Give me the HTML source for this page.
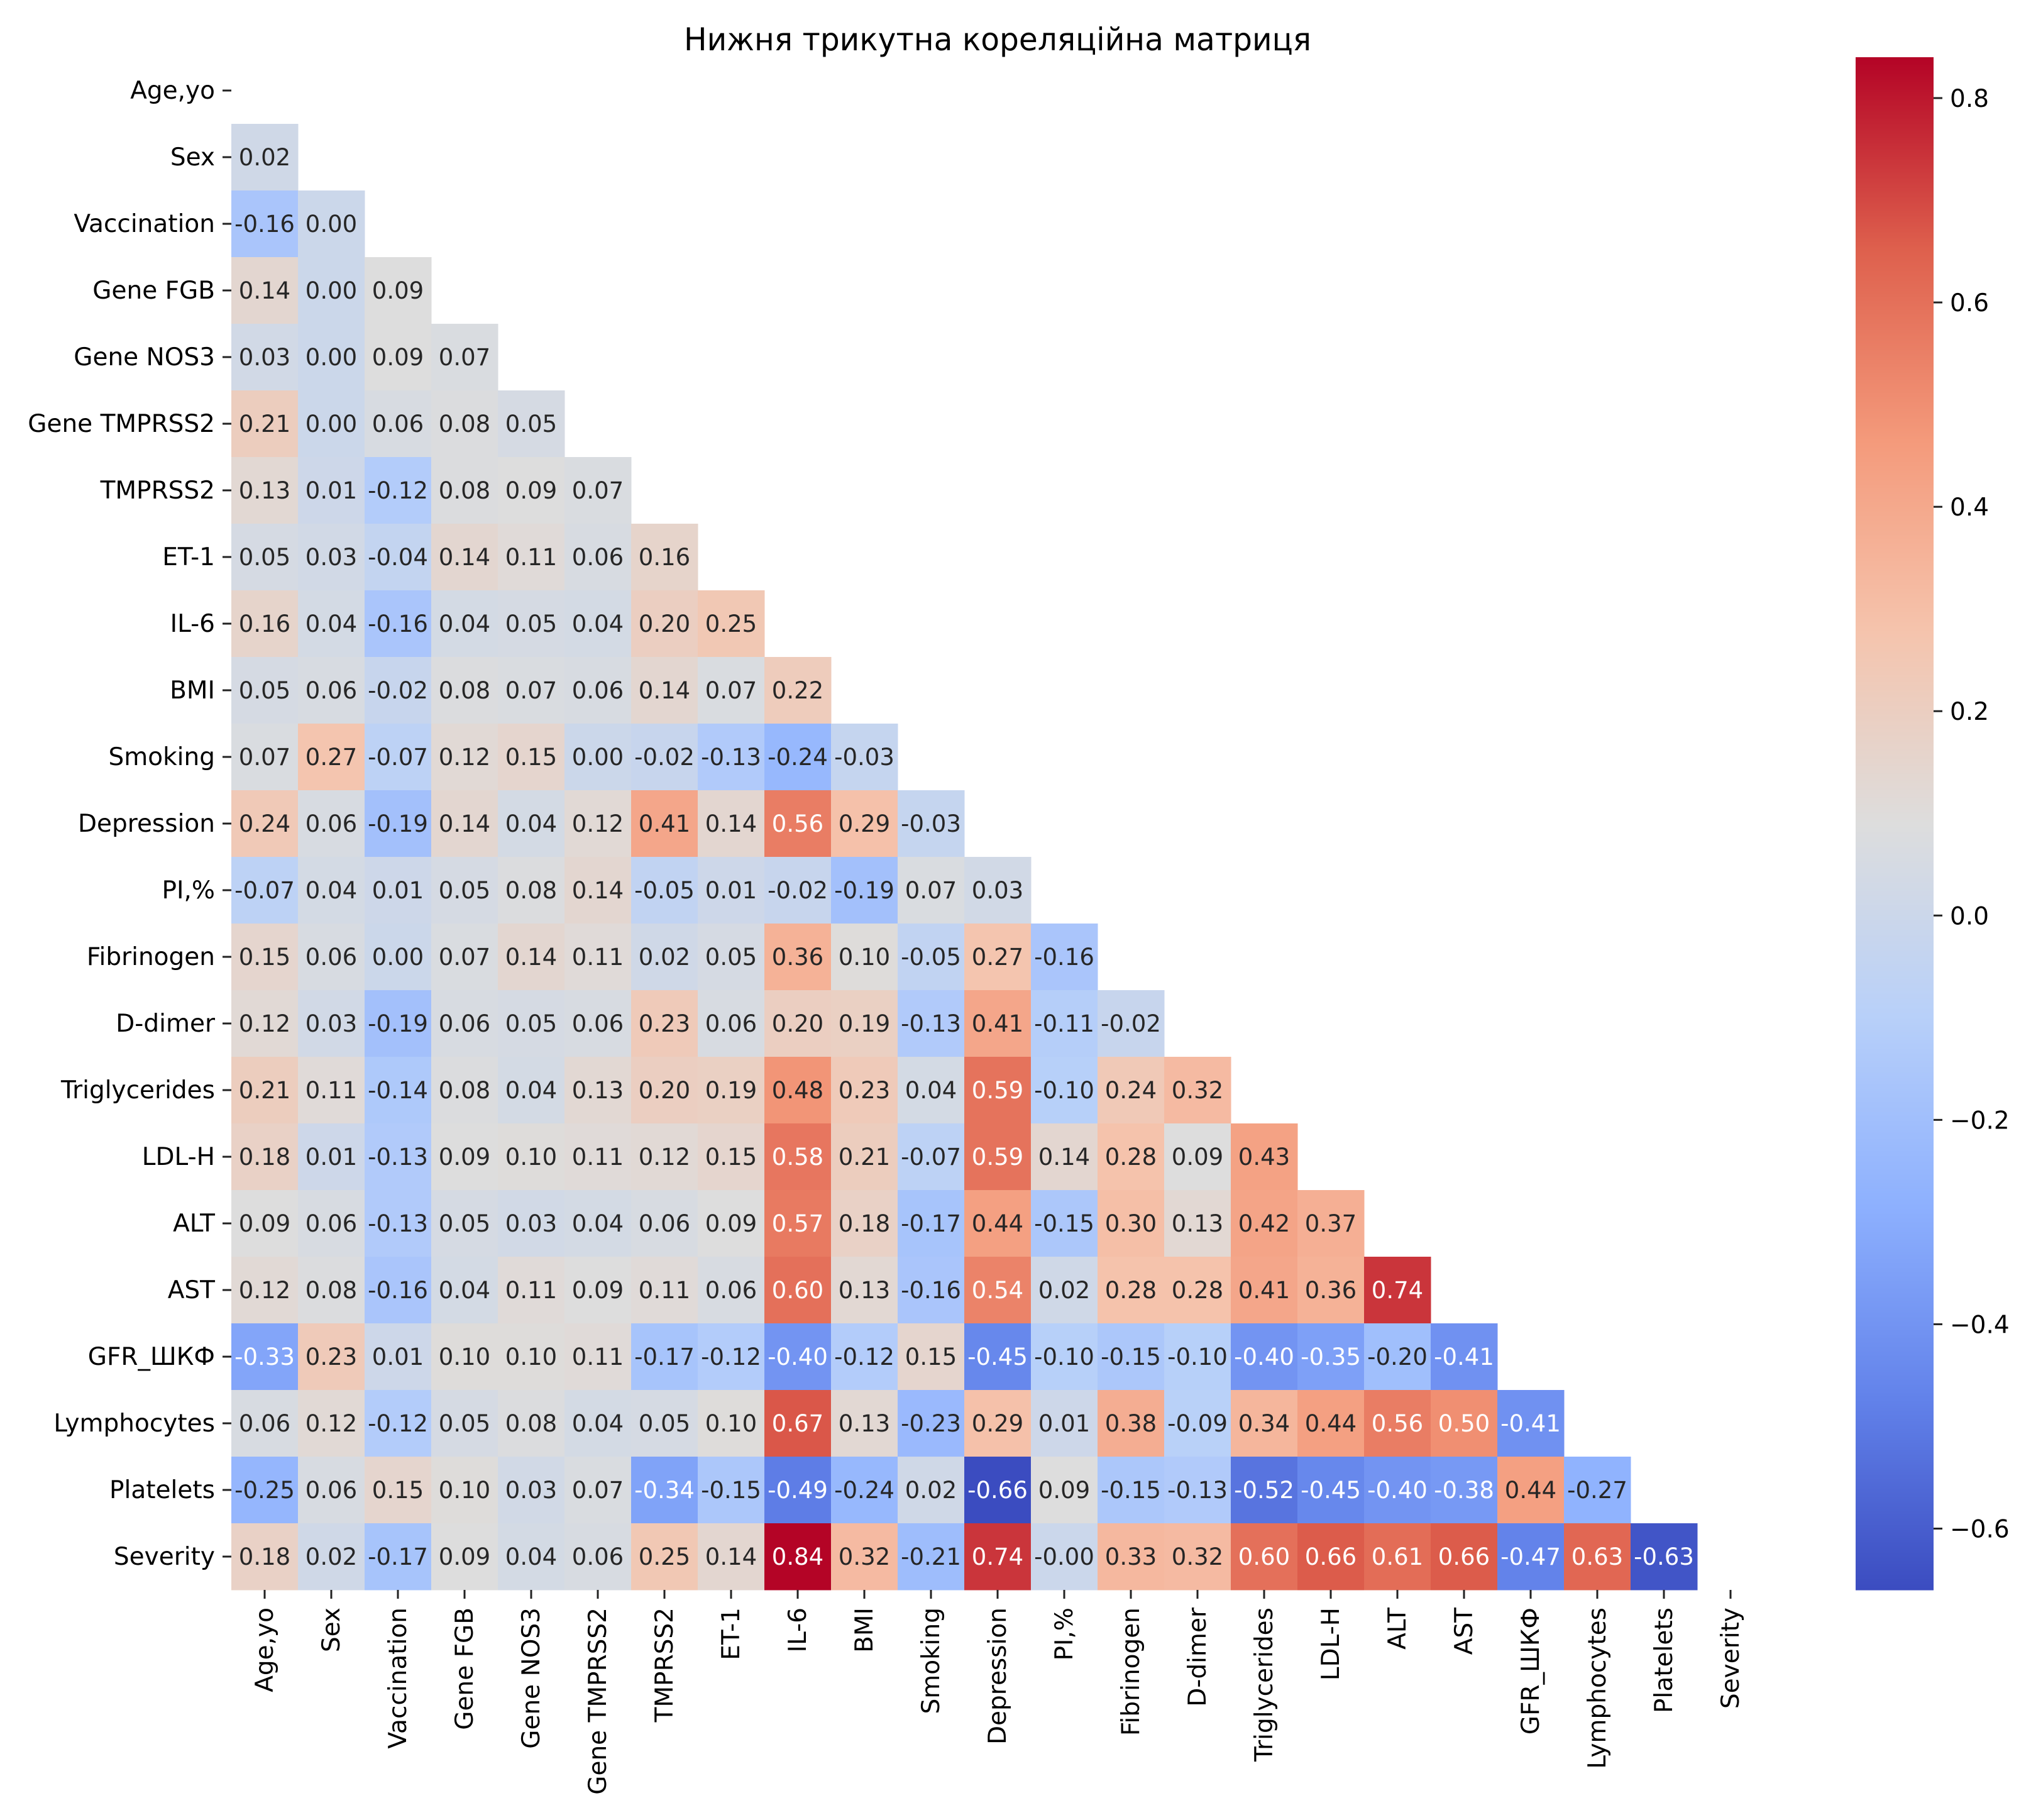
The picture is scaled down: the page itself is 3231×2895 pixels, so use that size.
<!DOCTYPE html>
<html><head><meta charset="utf-8"><style>
html,body{margin:0;padding:0;background:#fff;}
svg text{font-family:"DejaVu Sans","Liberation Sans",sans-serif;}
</style></head><body>
<svg id="chart" xmlns="http://www.w3.org/2000/svg" width="3231" height="2890" viewBox="0 0 3231 2890">
<rect width="3231" height="2890" fill="#fff"/>
<text x="1587" y="80" font-size="50" text-anchor="middle" fill="#000" textLength="998" lengthAdjust="spacingAndGlyphs">Нижня трикутна кореляційна матриця</text>
<g id="cells"></g><g id="xaxis"></g><g id="yaxis"></g><g id="cbar"></g>
</svg>
<script>
const labels = ["Age,yo","Sex","Vaccination","Gene FGB","Gene NOS3","Gene TMPRSS2","TMPRSS2","ET-1","IL-6","BMI","Smoking","Depression","PI,%","Fibrinogen","D-dimer","Triglycerides","LDL-H","ALT","AST","GFR_ШКФ","Lymphocytes","Platelets","Severity"];
const rowSex = [0.02];
const rowVaccination = [-0.16,0.00];
const rowGeneFGB = [0.14,0.00,0.09];
const rowGeneNOS3 = [0.03,0.00,0.09,0.07];
const rowGeneTMPRSS2 = [0.21,0.00,0.06,0.08,0.05];
const rowTMPRSS2 = [0.13,0.01,-0.12,0.08,0.09,0.07];
const rowET1 = [0.05,0.03,-0.04,0.14,0.11,0.06,0.16];
const rowIL6 = [0.16,0.04,-0.16,0.04,0.05,0.04,0.20,0.25];
const rowBMI = [0.05,0.06,-0.02,0.08,0.07,0.06,0.14,0.07,0.22];
const rowSmoking = [0.07,0.27,-0.07,0.12,0.15,0.00,-0.02,-0.13,-0.24,-0.03];
const rowDepression = [0.24,0.06,-0.19,0.14,0.04,0.12,0.41,0.14,0.56,0.29,-0.03];
const rowPI = [-0.07,0.04,0.01,0.05,0.08,0.14,-0.05,0.01,-0.02,-0.19,0.07,0.03];
const rowFibrinogen = [0.15,0.06,0.00,0.07,0.14,0.11,0.02,0.05,0.36,0.10,-0.05,0.27,-0.16];
const rowDdimer = [0.12,0.03,-0.19,0.06,0.05,0.06,0.23,0.06,0.20,0.19,-0.13,0.41,-0.11,-0.02];
const rowTriglycerides = [0.21,0.11,-0.14,0.08,0.04,0.13,0.20,0.19,0.48,0.23,0.04,0.59,-0.10,0.24,0.32];
const rowLDLH = [0.18,0.01,-0.13,0.09,0.10,0.11,0.12,0.15,0.58,0.21,-0.07,0.59,0.14,0.28,0.09,0.43];
const rowALT = [0.09,0.06,-0.13,0.05,0.03,0.04,0.06,0.09,0.57,0.18,-0.17,0.44,-0.15,0.30,0.13,0.42,0.37];
const rowAST = [0.12,0.08,-0.16,0.04,0.11,0.09,0.11,0.06,0.60,0.13,-0.16,0.54,0.02,0.28,0.28,0.41,0.36,0.74];
const rowGFR = [-0.33,0.23,0.01,0.10,0.10,0.11,-0.17,-0.12,-0.40,-0.12,0.15,-0.45,-0.10,-0.15,-0.10,-0.40,-0.35,-0.20,-0.41];
const rowLymphocytes = [0.06,0.12,-0.12,0.05,0.08,0.04,0.05,0.10,0.67,0.13,-0.23,0.29,0.01,0.38,-0.09,0.34,0.44,0.56,0.50,-0.41];
const rowPlatelets = [-0.25,0.06,0.15,0.10,0.03,0.07,-0.34,-0.15,-0.49,-0.24,0.02,-0.66,0.09,-0.15,-0.13,-0.52,-0.45,-0.40,-0.38,0.44,-0.27];
const rowSeverity = [0.18,0.02,-0.17,0.09,0.04,0.06,0.25,0.14,0.84,0.32,-0.21,0.74,-0.001,0.33,0.32,0.60,0.66,0.61,0.66,-0.47,0.63,-0.63];
const cbarTicks = [0.8,0.6,0.4,0.2,0.0,-0.2,-0.4,-0.6];
const vmin = -0.66, vmax = 0.84;

const rows = [[],rowSex,rowVaccination,rowGeneFGB,rowGeneNOS3,rowGeneTMPRSS2,rowTMPRSS2,rowET1,rowIL6,rowBMI,rowSmoking,rowDepression,rowPI,rowFibrinogen,rowDdimer,rowTriglycerides,rowLDLH,rowALT,rowAST,rowGFR,rowLymphocytes,rowPlatelets,rowSeverity];
const NS="http://www.w3.org/2000/svg";
const L=368,T=91,C=106,N=labels.length,B=T+N*C;
const CBX=2952,CBW=124;
const x=i=>L+i*C, y=i=>T+i*C;
const cv=v=>T+(vmax-v)/(vmax-vmin)*(B-T);
const stops=[[59,76,192],[98,130,234],[141,176,254],[184,208,249],[221,221,221],[245,196,173],[244,154,123],[222,96,77],[180,4,38]];
function cmap(v){let t=(v-vmin)/(vmax-vmin);t=Math.max(0,Math.min(1,t))*8;let i=Math.min(7,Math.floor(t)),f=t-i;const a=stops[i],b=stops[i+1];return [0,1,2].map(k=>Math.round(a[k]+(b[k]-a[k])*f));}
function lum(c){const l=c.map(v=>{v/=255;return v<=0.03928?v/12.92:Math.pow((v+0.055)/1.055,2.4);});return 0.2126*l[0]+0.7152*l[1]+0.0722*l[2];}
function mk(tag,attrs,parent){const e=document.createElementNS(NS,tag);for(const k in attrs)e.setAttribute(k,attrs[k]);parent.appendChild(e);return e;}
const gc=document.getElementById('cells');
rows.forEach((r,i)=>{r.forEach((v,j)=>{
  const c=cmap(v);
  const rc=mk('rect',{x:x(j),y:y(i),width:C+0.5,height:C+0.5,fill:`rgb(${c})`},gc);
  
  
  const t=mk('text',{x:x(j)+C/2,y:y(i)+C/2+13,'font-size':37,'text-anchor':'middle',fill:lum(c)<0.408?'#fff':'#262626'},gc);
  
  
  t.textContent=v.toFixed(2);
});});
const gx=document.getElementById('xaxis'),gy=document.getElementById('yaxis');
labels.forEach((lab,i)=>{
  const cx=x(i)+C/2, cy=y(i)+C/2;
  mk('line',{x1:cx,y1:B,x2:cx,y2:B+14,stroke:'#222','stroke-width':3},gx);
  const tx=mk('text',{transform:`translate(${cx+13},${B+28}) rotate(-90)`,'font-size':39,'text-anchor':'end',fill:'#000'},gx);
  
  
  tx.textContent=lab;
  mk('line',{x1:L-14,y1:cy,x2:L,y2:cy,stroke:'#222','stroke-width':3},gy);
  const ty=mk('text',{x:L-26,y:cy+13,'font-size':39,'text-anchor':'end',fill:'#000'},gy);
  
  
  ty.textContent=lab;
});
const gb=document.getElementById('cbar');


for(let p=T;p<B;p+=2){const v=vmax-(p-T)/(B-T)*(vmax-vmin);const c=cmap(v);mk('rect',{x:CBX,y:p,width:CBW,height:2.6,fill:`rgb(${c})`},gb);}
cbarTicks.forEach(v=>{
  const py=cv(v);
  mk('line',{x1:CBX+CBW,y1:py,x2:CBX+CBW+14,y2:py,stroke:'#222','stroke-width':3},gb);
  const t=mk('text',{x:CBX+CBW+26,y:py+14,'font-size':39,fill:'#000'},gb);
  
  
  t.textContent=(v<0?'\u2212':'')+Math.abs(v).toFixed(1);
});
</script>
</body></html>
